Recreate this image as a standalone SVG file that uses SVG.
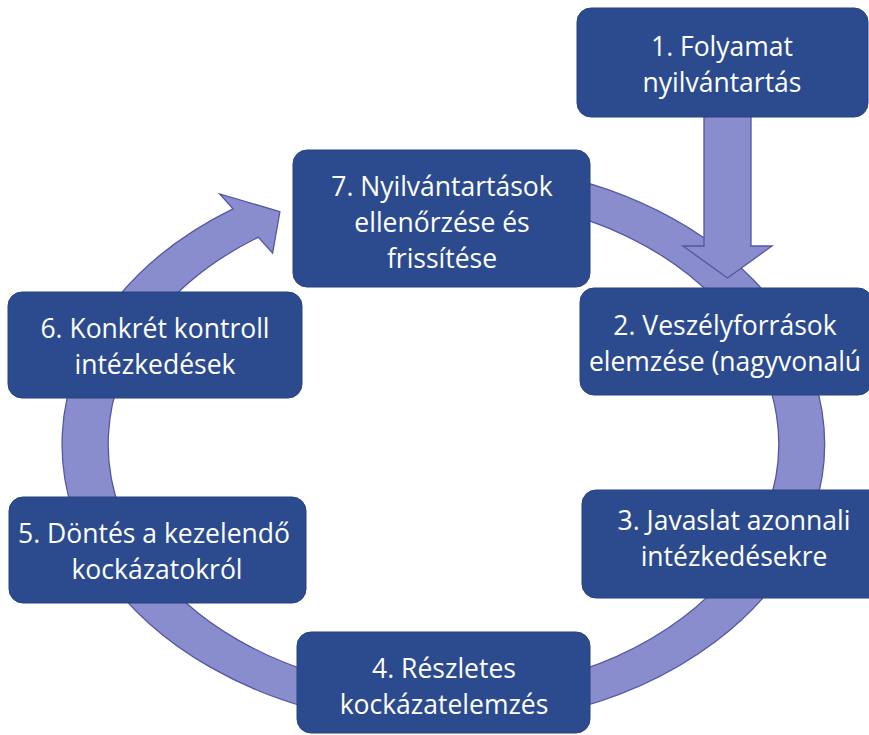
<svg xmlns="http://www.w3.org/2000/svg" width="869" height="735" viewBox="0 0 869 735">
<style>
.box{fill:#2C4B8F;stroke:#27427d;stroke-width:1}
.lbl{font-family:"Open Sans","Noto Sans","DejaVu Sans",sans-serif;font-size:26.5px;fill:#ffffff;text-anchor:middle}
.band{fill:#8A8DCD;stroke:#5257A3;stroke-width:1.3;stroke-linejoin:miter}
</style>
<rect x="0" y="0" width="869" height="735" fill="#ffffff"/>
<g id="connectors">
  <g transform="translate(443.5,444) scale(1.352,1)">
    <path class="band" vector-effect="non-scaling-stroke" d="M 0,-282 A 282 282 0 1 1 -155.7,-235.2 L -165.5,-250 L -121,-232.4 L -126.4,-191 L -136.9,-206.8 A 248 248 0 1 0 0,-248 Z"/>
  </g>
  <polygon class="band" points="704,110 751,110 751,246 772,246 727.5,278 683,246 704,246"/>
</g>
<g id="node1">
  <rect class="box" x="577" y="8" width="291" height="109" rx="14"/>
  <text class="lbl" x="722" y="56">1. Folyamat</text>
  <text class="lbl" x="722" y="92">nyilvántartás</text>
</g>
<g id="node7">
  <rect class="box" x="293" y="150" width="297" height="137" rx="14"/>
  <text class="lbl" x="442" y="196">7. Nyilvántartások</text>
  <text class="lbl" x="442" y="232">ellenőrzése és</text>
  <text class="lbl" x="442" y="268">frissítése</text>
</g>
<g id="node2">
  <rect class="box" x="580" y="288" width="292" height="107" rx="14"/>
  <text class="lbl" x="725" y="335">2. Veszélyforrások</text>
  <text class="lbl" x="725" y="371">elemzése (nagyvonalú</text>
</g>
<g id="node6">
  <rect class="box" x="8" y="292" width="294" height="106" rx="14"/>
  <text class="lbl" x="155" y="338">6. Konkrét kontroll</text>
  <text class="lbl" x="155" y="374">intézkedések</text>
</g>
<g id="node5">
  <rect class="box" x="9" y="497" width="297" height="106" rx="14"/>
  <text class="lbl" x="154" y="543">5. Döntés a kezelendő</text>
  <text class="lbl" x="157" y="579">kockázatokról</text>
</g>
<g id="node3">
  <rect class="box" x="582" y="490" width="305" height="108" rx="14"/>
  <text class="lbl" x="734" y="530">3. Javaslat azonnali</text>
  <text class="lbl" x="734" y="566">intézkedésekre</text>
</g>
<g id="node4">
  <rect class="box" x="297" y="632" width="293" height="101" rx="14"/>
  <text class="lbl" x="444" y="678">4. Részletes</text>
  <text class="lbl" x="444" y="714">kockázatelemzés</text>
</g>
</svg>
